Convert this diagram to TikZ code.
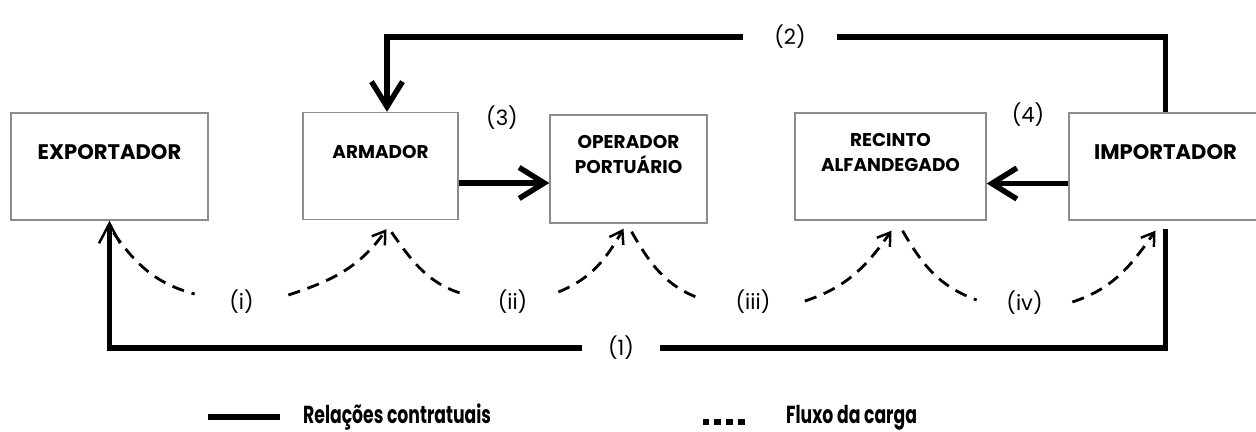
\documentclass[tikz,border=0pt]{standalone}
\usepackage{fontspec}
\setmainfont{Poppins}
\newfontfamily\legfont[FakeStretch=0.7]{Poppins}
\usetikzlibrary{positioning, arrows.meta, calc}

\begin{document}
\begin{tikzpicture}[
  x=0.02cm, y=0.02cm,
  box/.style={draw=black!45, line width=0.8pt, inner sep=0pt, minimum height=2.14cm},
  bigname/.style={font=\bfseries\fontsize{12}{14}\selectfont},
  boxname/.style={font=\bfseries\fontsize{10.5}{14.2}\selectfont, align=center},
  num/.style={font=\fontsize{12}{14}\selectfont},
  gaplbl/.style={num, inner sep=0pt},
  leg/.style={anchor=west, font=\legfont\bfseries\fontsize{14}{16}\selectfont},
  rel/.style={line width=3.1pt},
  relarr/.style={rel, -{Straight Barb[length=5mm, width=6.2mm]}},
  relthin/.style={rel, -{Straight Barb[length=4mm, width=4.2mm, line width=1.4pt]}},
  flow/.style={line width=1.6pt, dash pattern=on 7pt off 4.5pt},
  flowarr/.style={flow, -{Straight Barb[length=2.4mm, width=3.2mm, line width=1.4pt]}},
]
\clip (0,0) rectangle (1256,432);

% --- boxes ---
\node[box, minimum width=3.94cm] (expo) at (109.5,265.5) {};
\node[box, minimum width=3.10cm] (arm) at (380.5,266) {};
\node[box, minimum width=3.14cm, minimum height=2.16cm] (oper) at (628.5,263) {};
\node[box, minimum width=3.82cm] (recin) at (890.5,265.5) {};
\node[box, minimum width=3.86cm] (imp) at (1165.5,265.5) {};

\node[bigname] (expot) at ([yshift=-0.8cm]expo.north) {EXPORTADOR};
\node[boxname] (armt) at ([yshift=-0.8cm]arm.north) {ARMADOR};
\node[boxname] (opert) at ([yshift=-0.8cm]oper.north) {OPERADOR\\PORTUÁRIO};
\node[boxname] (recint) at ([yshift=-0.8cm]recin.north) {RECINTO\\ALFANDEGADO};
\node[bigname] (impt) at ([yshift=-0.8cm]imp.north) {IMPORTADOR};

% --- contractual relations ---
\node[gaplbl, minimum width=1.88cm] (n2) at (790,395) {(2)};
\draw[rel] (imp.north) |- (n2.east);
\draw[relarr] (n2.west) -| ([xshift=0.13cm]arm.north);

\node[gaplbl, minimum width=1.56cm] (n1) at (621,84) {(1)};
\draw[rel, shorten <=0.16cm] (imp.south) |- (n1.east);
\draw[relthin] (n1.west) -| (expo.south);

\node[num] (n3) at (502,314) {(3)};
\draw[relarr] ([yshift=-0.34cm]arm.east) -- ([yshift=-0.34cm]arm.east -| oper.west);

\node[num] (n4) at (1028,317) {(4)};
\draw[relarr] ([yshift=-0.34cm]imp.west) -- ([yshift=-0.34cm]imp.west -| recin.east);

% --- cargo flow ---
\node[gaplbl, minimum width=1.86cm] (fi) at (241.5,130) {(i)};
\node[gaplbl, minimum width=1.82cm] (fii) at (512.5,130) {(ii)};
\node[gaplbl, minimum width=2.06cm] (fiii) at (753,130) {(iii)};
\node[gaplbl, minimum width=1.90cm] (fiv) at (1024.5,129) {(iv)};

\draw[flow] ($(expo.south)+(4,-12)$) to[out=-55,in=165] ([yshift=0.16cm]fi.west);
\draw[flowarr] ([yshift=0.14cm]fi.east) to[out=18,in=-125] ($(arm.south)+(6,-9)$);
\draw[flow] ($(arm.south)+(11,-12)$) to[out=-55,in=165] ([yshift=0.14cm]fii.west);
\draw[flowarr] ([yshift=0.2cm]fii.east) to[out=22,in=-120] ($(oper.south)+(-5,-5)$);
\draw[flow] ($(oper.south)+(3,-8)$) to[out=-60,in=160] ([yshift=0.06cm]fiii.west);
\draw[flowarr] ([yshift=0.02cm]fiii.east) to[out=18,in=-125] ($(recin.south)+(1,-10)$);
\draw[flow] ($(recin.south)+(12,-10)$) to[out=-60,in=160] ([yshift=0.06cm]fiv.west);
\draw[flowarr] ([yshift=0.02cm]fiv.east) to[out=18,in=-125] ($(imp.south)+(-10,-10)$);

% --- legend ---
\node[leg] (legrel) at (297,15) {Relações contratuais};
\draw[rel] ([xshift=-0.34cm]legrel.west) -- ++(-72,0);
\node[leg] (legflow) at (780,14) {Fluxo da carga};
\draw[line width=3.8pt, dash pattern=on 3.8pt off 3pt] ([xshift=-0.7cm,yshift=-0.08cm]legflow.west) -- ++(-47,0);
\end{tikzpicture}
\end{document}
